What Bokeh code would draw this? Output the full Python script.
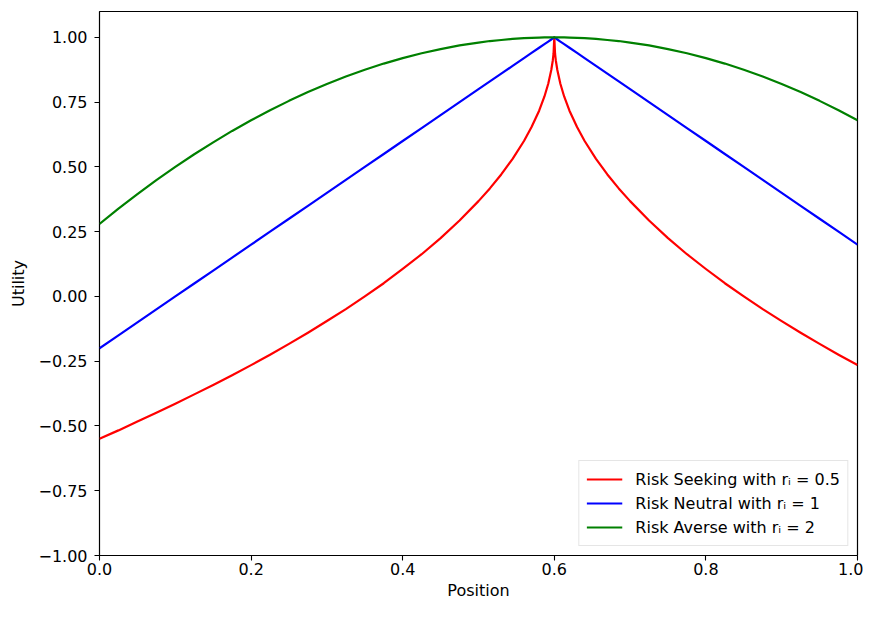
from bokeh.plotting import figure
from bokeh.models import Range1d, FixedTicker, Legend, LegendItem
from bokeh.embed import file_html
from bokeh.resources import INLINE

# Positions sampled along the x axis (denser near the peak at 0.6)
position = [0.0, 0.025, 0.05, 0.075, 0.1, 0.125, 0.15, 0.175, 0.2, 0.225, 0.25, 0.275, 0.3,
            0.325, 0.35, 0.375, 0.4, 0.425, 0.45, 0.475, 0.5, 0.515, 0.53, 0.545, 0.56, 0.57,
            0.58, 0.587, 0.592, 0.596, 0.598, 0.599, 0.6,
            0.601, 0.602, 0.604, 0.608, 0.613, 0.62, 0.63, 0.64, 0.655, 0.67, 0.685, 0.7,
            0.725, 0.75, 0.775, 0.8, 0.825, 0.85, 0.875, 0.9, 0.925, 0.95, 0.975, 1.0]

risk_seeking = [-0.549, -0.517, -0.483, -0.449, -0.414, -0.378, -0.342, -0.304, -0.265, -0.225,
                -0.183, -0.140, -0.095, -0.049, 0.0, 0.051, 0.106, 0.163, 0.225, 0.293, 0.368,
                0.417, 0.471, 0.531, 0.600, 0.654, 0.717, 0.772, 0.821, 0.874, 0.911, 0.937, 1.0,
                0.937, 0.911, 0.874, 0.821, 0.772, 0.717, 0.654, 0.600, 0.531, 0.471, 0.417,
                0.368, 0.293, 0.225, 0.163, 0.106, 0.051, 0.0, -0.049, -0.095, -0.140, -0.183,
                -0.225, -0.265]

risk_neutral = [-0.2, -0.15, -0.1, -0.05, 0.0, 0.05, 0.1, 0.15, 0.2, 0.25, 0.3, 0.35, 0.4, 0.45,
                0.5, 0.55, 0.6, 0.65, 0.7, 0.75, 0.8, 0.83, 0.86, 0.89, 0.92, 0.94, 0.96, 0.974,
                0.984, 0.992, 0.996, 0.998, 1.0,
                0.998, 0.996, 0.992, 0.984, 0.974, 0.96, 0.94, 0.92, 0.89, 0.86, 0.83, 0.8,
                0.75, 0.7, 0.65, 0.6, 0.55, 0.5, 0.45, 0.4, 0.35, 0.3, 0.25, 0.2]

risk_averse = [0.28, 0.339, 0.395, 0.449, 0.5, 0.549, 0.595, 0.639, 0.68, 0.719, 0.755, 0.789,
               0.82, 0.849, 0.875, 0.899, 0.92, 0.939, 0.955, 0.969, 0.98, 0.986, 0.990, 0.994,
               0.997, 0.998, 0.999, 1.0, 1.0, 1.0, 1.0, 1.0, 1.0,
               1.0, 1.0, 1.0, 1.0, 1.0, 0.999, 0.998, 0.997, 0.994, 0.990, 0.986, 0.98, 0.969,
               0.955, 0.939, 0.92, 0.899, 0.875, 0.849, 0.82, 0.789, 0.755, 0.719, 0.68]

labels = ["Risk Seeking with rᵢ = 0.5", "Risk Neutral with rᵢ = 1", "Risk Averse with rᵢ = 2"]
colors = ["#ff0000", "#0000ff", "#008000"]

x_ticks = [0.0, 0.2, 0.4, 0.6, 0.8, 1.0]
y_ticks = [-1.0, -0.75, -0.5, -0.25, 0.0, 0.25, 0.5, 0.75, 1.0]

FONT = "DejaVu Sans"

p = figure(width=863, height=602, output_backend="svg", toolbar_location=None,
           x_range=Range1d(0, 1), y_range=Range1d(-1, 1.1),
           min_border_left=99, min_border_right=6, min_border_top=11, min_border_bottom=10)

p.xgrid.visible = False
p.ygrid.visible = False
p.outline_line_color = "black"
p.outline_line_width = 1.2
p.background_fill_color = "white"
p.border_fill_color = "white"

p.xaxis.ticker = FixedTicker(ticks=x_ticks)
p.yaxis.ticker = FixedTicker(ticks=y_ticks)
p.xaxis.major_label_overrides = {t: f"{t:.1f}" for t in x_ticks}
p.yaxis.major_label_overrides = {t: f"{t:.2f}".replace("-", "\u2212") for t in y_ticks}

for ax in (p.xaxis, p.yaxis):
    ax.axis_line_color = None
    ax.major_tick_in = 0
    ax.major_tick_out = 5
    ax.major_tick_line_width = 1.1
    ax.minor_tick_line_color = None
    ax.major_label_text_font = FONT
    ax.major_label_text_font_size = "16px"
    ax.major_label_text_color = "black"
    ax.axis_label_text_font = FONT
    ax.axis_label_text_font_size = "16px"
    ax.axis_label_text_font_style = "normal"
    ax.axis_label_text_color = "black"

p.xaxis.axis_label = "Position"
p.yaxis.axis_label = "Utility"
p.xaxis.major_label_standoff = 2
p.xaxis.axis_label_standoff = 3
p.yaxis.major_label_standoff = 7
p.yaxis.axis_label_standoff = 7

items = []
for ys, lab, col in zip([risk_seeking, risk_neutral, risk_averse], labels, colors):
    r = p.line(position, ys, line_color=col, line_width=2.2, line_join="round")
    items.append(LegendItem(label=lab, renderers=[r]))

legend = Legend(items=items, location="bottom_right")
legend.label_text_font = FONT
legend.label_text_font_size = "16px"
legend.label_text_color = "black"
legend.border_line_color = "#cccccc"
legend.border_line_width = 1
legend.background_fill_alpha = 0.8
legend.margin = 9
legend.padding = 7
legend.spacing = 2
legend.glyph_width = 36
legend.label_standoff = 13
legend.label_height = 22
legend.glyph_height = 22
p.add_layout(legend)

open("out.html", "w").write(file_html(p, INLINE))
